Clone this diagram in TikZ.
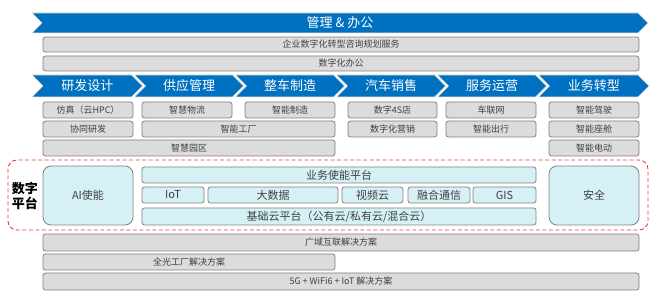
\documentclass[tikz,border=0pt]{standalone}
\usepackage{fontspec}
\setmainfont{Noto Sans CJK SC}
\usepackage{tikz}
\usetikzlibrary{positioning}
\definecolor{chevBlue}{RGB}{0,112,192}
\definecolor{chevEdge}{RGB}{238,228,210}
\definecolor{boxFill}{RGB}{220,220,220}
\definecolor{boxLine}{RGB}{128,128,128}
\definecolor{cyanFill}{RGB}{214,241,245}
\definecolor{boxText}{RGB}{64,64,64}
\definecolor{dashRed}{RGB}{224,64,64}
\tikzset{
  graybox/.style={draw=boxLine, fill=boxFill, line width=0.8pt, rounded corners=2.5pt,
    inner sep=0pt, minimum height=16pt, text=boxText, font=\fontsize{9}{10}\selectfont},
  cyanbox/.style={draw=boxLine, fill=cyanFill, line width=0.8pt, rounded corners=2.5pt,
    inner sep=0pt, minimum height=16pt, text=boxText, font=\fontsize{11}{12}\selectfont},
  chevlabel/.style={text=white, inner sep=0pt, font=\fontsize{13}{14}\selectfont}
}

\begin{document}
\begin{tikzpicture}[x=1pt,y=-1pt]
    \useasboundingbox (0,0) rectangle (670,307);

    \fill[chevBlue, draw=chevEdge, line width=0.6pt] (32,13) -- (638,13) -- (648,23) -- (638,33) -- (32,33) -- (42,23) -- cycle;
    \node[chevlabel] (guanli) at (340,23) {管理 \& 办公};

    \node[graybox, minimum width=596pt, minimum height=15pt] (zixun) at (341,44.5) {企业数字化转型咨询规划服务};
    \node[graybox, minimum width=596pt, minimum height=15pt] (bangong) at (341,63.5) {数字化办公};

    \foreach \xl/\xr/\lbl/\nm in {32/131.5/研发设计/yanfa, 134.5/232.5/供应管理/gongying,
        235.5/333.5/整车制造/zhizao, 336.5/434.5/汽车销售/xiaoshou,
        437.5/535.5/服务运营/yunying, 538.5/638/业务转型/zhuanxing}{
      \fill[chevBlue, draw=chevEdge, line width=0.6pt] (\xl,75) -- (\xr,75) -- ({\xr+11},86) -- (\xr,97) -- (\xl,97) -- ({\xl+11},86) -- cycle;
      \node[chevlabel] (\nm) at ({(\xl+\xr)/2+5.5},86) {\lbl};
    }

    \node[graybox, minimum width=90pt] (fangzhen) at (88,110) {仿真（云HPC）};
    \node[graybox, minimum width=90pt] (wuliu) at (187,110) {智慧物流};
    \node[graybox, minimum width=90pt] (zhinengzz) at (290,110) {智能制造};
    \node[graybox, minimum width=89pt] (sidian) at (392.5,110) {数字4S店};
    \node[graybox, minimum width=90pt] (chelian) at (491,110) {车联网};
    \node[graybox, minimum width=90pt] (jiashi) at (594,110) {智能驾驶};

    \node[graybox, minimum width=90pt] (xietong) at (88,129) {协同研发};
    \node[graybox, minimum width=193pt] (gongchang) at (238.5,129) {智能工厂};
    \node[graybox, minimum width=89pt] (yingxiao) at (392.5,129) {数字化营销};
    \node[graybox, minimum width=90pt] (chuxing) at (491,129) {智能出行};
    \node[graybox, minimum width=90pt] (zuocang) at (594,129) {智能座舱};

    \node[graybox, minimum width=292pt] (yuanqu) at (189,148) {智慧园区};
    \node[graybox, minimum width=90pt] (diandong) at (594,148) {智能电动};

    \draw[dashRed, line width=0.9pt, dashed, dash pattern=on 4pt off 2.5pt, rounded corners=9pt] (8,160) rectangle (648,230);
    \node[align=center, font=\fontsize{13}{15}\bfseries\selectfont, inner sep=0pt] (shuzi) at (25,196) {数字\\平台};

    \node[cyanbox, minimum width=90pt, minimum height=59pt, rounded corners=8pt] (ai) at (88,195.5) {AI使能};
    \node[cyanbox, minimum width=90pt, minimum height=59pt, rounded corners=8pt] (anquan) at (594,195.5) {安全};

    \node[cyanbox, minimum width=394pt] (yewu) at (339,175) {业务使能平台};
    \node[cyanbox, minimum width=62pt] (iot) at (173,195) {IoT};
    \node[cyanbox, minimum width=130pt] (dashuju) at (273,195) {大数据};
    \node[cyanbox, minimum width=61pt] (shipin) at (372.5,195) {视频云};
    \node[cyanbox, minimum width=62pt] (ronghe) at (439,195) {融合通信};
    \node[cyanbox, minimum width=63pt] (gis) at (504.5,195) {GIS};
    \node[cyanbox, minimum width=394pt, minimum height=17pt] (jichu) at (339,216.5) {基础云平台（公有云/私有云/混合云）};

    \node[graybox, minimum width=596pt, minimum height=17pt] (guangyu) at (341,242.5) {广域互联解决方案};
    \node[graybox, minimum width=292pt] (quanguang) at (189,262) {全光工厂解决方案};
    \node[graybox, minimum width=596pt, minimum height=17pt] (wuxian) at (341,281.5) {5G + WiFi6 + IoT 解决方案};
\end{tikzpicture}
\end{document}
